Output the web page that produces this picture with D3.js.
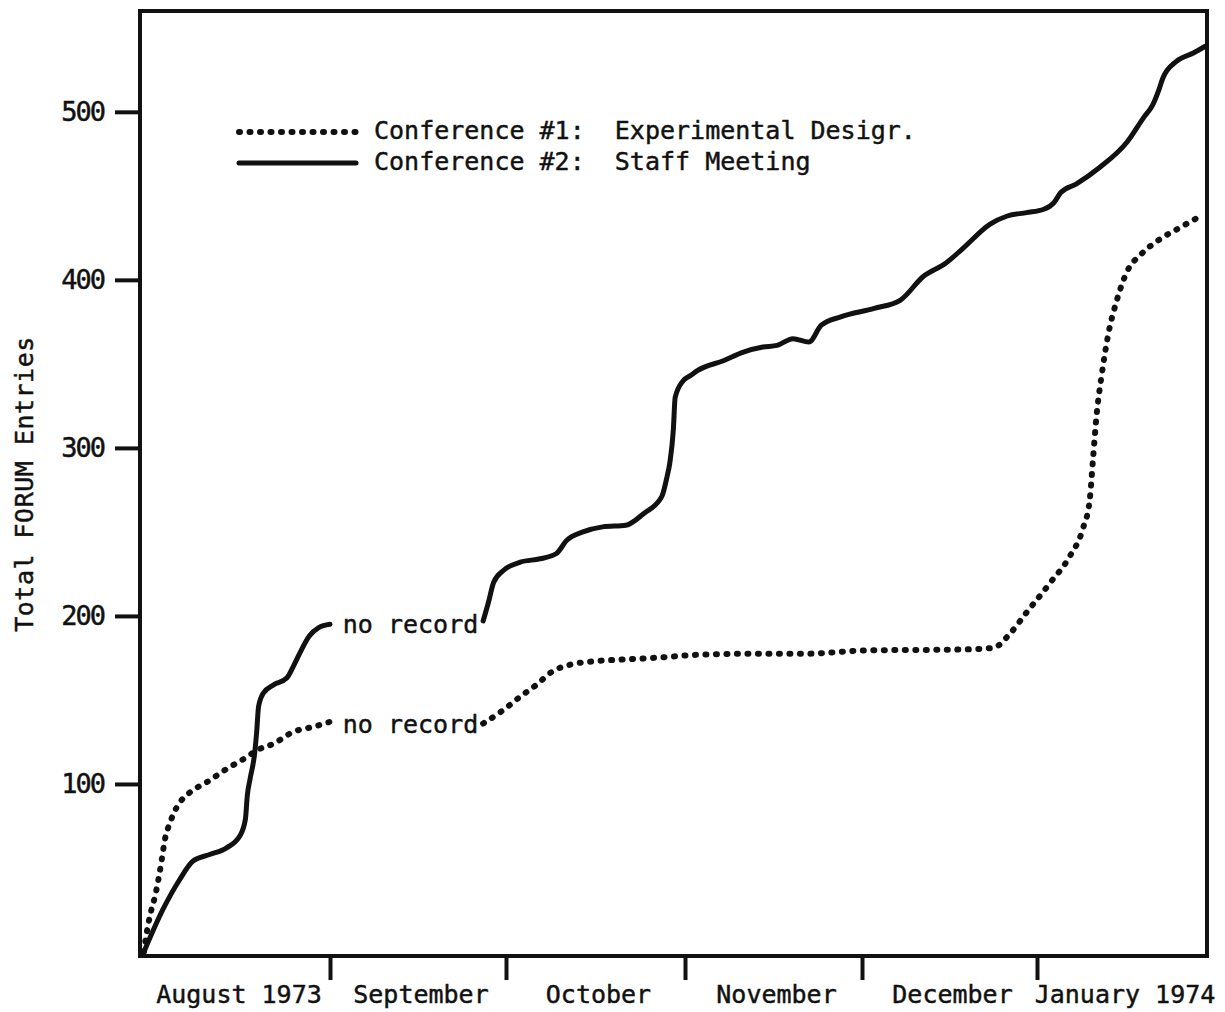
<!DOCTYPE html>
<html>
<head>
<meta charset="utf-8">
<script src="https://cdn.jsdelivr.net/npm/d3@7"></script>
<style>
  html, body { margin: 0; padding: 0; background: #ffffff; }
  svg { display: block; }
  text { font-family: "DejaVu Sans Mono", "Liberation Mono", monospace; fill: #111; stroke: #111; stroke-width: 0.45px; }
</style>
</head>
<body>
<svg id="chart" width="1225" height="1012"></svg>
<script>
// ---- data (t = months since 1 Aug 1973, value = total FORUM entries) ----
const monthLabels = ["August 1973", "September", "October", "November", "December", "January 1974"];
const yTickValues = [100, 200, 300, 400, 500];

const seriesNames = ["Conference #1:  Experimental Desigr.", "Conference #2:  Staff Meeting"];
const gapLabel = "no record";

// Conference #1 (dotted)
const conf1Before = [
  [0.01, 0], [0.016, 5], [0.034, 17], [0.052, 26], [0.069, 33], [0.087, 43], [0.105, 55],
  [0.122, 67], [0.149, 77], [0.184, 86], [0.255, 95], [0.344, 101], [0.451, 109],
  [0.557, 116], [0.61, 120], [0.70, 124], [0.805, 131], [0.91, 134], [1.0, 137]
];
const conf1After = [
  [1.87, 136], [1.985, 144], [2.08, 152], [2.17, 159], [2.26, 167], [2.36, 171],
  [2.49, 173], [2.64, 174], [2.82, 175], [3.10, 177], [3.39, 177.5], [3.67, 177.5],
  [4.03, 179.5], [4.56, 180], [4.75, 181], [4.85, 190], [4.94, 202], [5.08, 220],
  [5.19, 235], [5.27, 252], [5.31, 269], [5.33, 294], [5.35, 319], [5.38, 343],
  [5.42, 368], [5.47, 388], [5.53, 405], [5.61, 415], [5.72, 424], [5.84, 431], [5.97, 438.5]
];

// Conference #2 (solid)
const conf2Before = [
  [0.01, 0], [0.11, 25], [0.20, 43], [0.27, 54], [0.36, 58], [0.45, 62], [0.52, 69],
  [0.55, 79], [0.56, 93], [0.575, 103], [0.60, 119], [0.61, 131], [0.62, 146],
  [0.645, 154], [0.70, 159], [0.77, 163], [0.805, 170], [0.84, 178], [0.89, 188],
  [0.94, 193], [1.0, 195]
];
const conf2After = [
  [1.87, 197], [1.90, 208], [1.93, 220], [1.985, 227], [2.08, 232], [2.19, 234],
  [2.28, 237], [2.34, 245], [2.43, 250], [2.54, 253], [2.67, 254], [2.77, 261],
  [2.87, 271], [2.90, 283], [2.915, 291], [2.935, 311], [2.945, 330], [2.99, 340],
  [3.03, 343], [3.07, 346], [3.22, 352], [3.33, 357], [3.44, 360], [3.52, 361],
  [3.61, 365], [3.70, 363], [3.77, 373], [3.88, 378], [4.07, 383], [4.22, 388],
  [4.35, 402], [4.48, 410], [4.58, 419], [4.73, 433], [4.83, 438], [4.94, 440],
  [5.04, 442], [5.10, 446], [5.14, 452], [5.23, 457], [5.37, 467], [5.53, 482],
  [5.63, 497], [5.68, 504], [5.72, 514], [5.74, 520], [5.82, 530], [5.92, 535], [5.99, 539]
];

// ---- layout ----
const svg = d3.select("#chart");
const ink = "#111";
const frame = { left: 140, right: 1207, top: 11, bottom: 956 };

// month boundaries are not evenly spaced on the original drawing
const x = d3.scaleLinear()
  .domain([0, 1, 2, 3, 4, 5, 6])
  .range([142, 330, 506, 685, 862, 1037, 1207]);
const y = d3.scaleLinear().domain([0, 560]).range([952, 11]);

const line = d3.line()
  .x(d => x(d[0]))
  .y(d => y(d[1]))
  .curve(d3.curveMonotoneX);

// frame
svg.append("rect")
  .attr("x", frame.left).attr("y", frame.top)
  .attr("width", frame.right - frame.left)
  .attr("height", frame.bottom - frame.top)
  .attr("fill", "none").attr("stroke", ink).attr("stroke-width", 4);

// y axis
const yAxis = d3.axisLeft(y).tickValues(yTickValues).tickSize(25).tickPadding(11).tickFormat(d3.format("d"));
const yg = svg.append("g").attr("transform", `translate(${frame.left},0)`).call(yAxis);
yg.select(".domain").remove();
yg.selectAll(".tick line").attr("stroke", ink).attr("stroke-width", 4);
yg.selectAll(".tick text").attr("font-size", 27).attr("letter-spacing", -2).attr("fill", ink)
  .style("font-family", "'DejaVu Sans Mono', monospace");

// x axis ticks at month boundaries
const xAxis = d3.axisBottom(x).tickValues([1, 2, 3, 4, 5]).tickSize(24).tickFormat("");
const xg = svg.append("g").attr("transform", `translate(0,${frame.bottom})`).call(xAxis);
xg.select(".domain").remove();
xg.selectAll(".tick line").attr("stroke", ink).attr("stroke-width", 4);

// month labels
svg.append("g").selectAll("text")
  .data(monthLabels)
  .join("text")
  .attr("x", (d, i) => x(i + 0.5) + 3)
  .attr("y", 1003)
  .attr("text-anchor", "middle")
  .attr("font-size", 25)
  .text(d => d);

// y axis title
svg.append("text")
  .attr("transform", "translate(33,484) rotate(-90)")
  .attr("text-anchor", "middle")
  .attr("font-size", 25)
  .attr("letter-spacing", 0.5)
  .text("Total FORUM Entries");

// series
const dotted = { stroke: ink, "stroke-width": 6, "stroke-dasharray": "1 9.5", "stroke-linecap": "round", fill: "none" };
const solid = { stroke: ink, "stroke-width": 5, "stroke-linecap": "round", "stroke-linejoin": "round", fill: "none" };
function styled(sel, st) { Object.entries(st).forEach(([k, v]) => sel.attr(k, v)); return sel; }

[conf1Before, conf1After].forEach(seg => styled(svg.append("path").attr("d", line(seg)), dotted));
[conf2Before, conf2After].forEach(seg => styled(svg.append("path").attr("d", line(seg)), solid));

// "no record" gap labels
[[conf2Before, conf2After], [conf1Before, conf1After]].forEach(([a, b]) => {
  const p = a[a.length - 1], q = b[0];
  svg.append("text")
    .attr("x", (x(p[0]) + x(q[0])) / 2 + 4)
    .attr("y", y((p[1] + q[1]) / 2) + 10)
    .attr("text-anchor", "middle")
    .attr("font-size", 25)
    .text(gapLabel);
});

// legend
const legend = svg.append("g");
const legendRows = [
  { name: seriesNames[0], style: dotted, ly: 132, ty: 139 },
  { name: seriesNames[1], style: solid, ly: 163, ty: 170 }
];
legendRows.forEach(r => {
  styled(legend.append("line").attr("x1", 239).attr("x2", 356).attr("y1", r.ly).attr("y2", r.ly), r.style);
  legend.append("text").attr("x", 374).attr("y", r.ty).attr("font-size", 25)
    .attr("xml:space", "preserve").style("white-space", "pre").text(r.name);
});
</script>
</body>
</html>
